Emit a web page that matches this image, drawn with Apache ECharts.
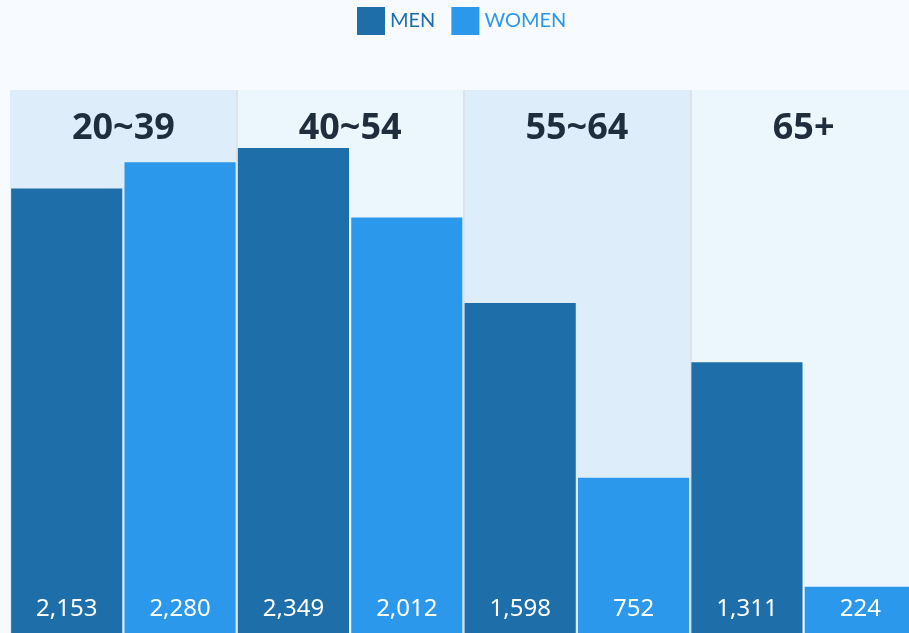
<!DOCTYPE html>
<html>
<head>
<meta charset="utf-8">
<script src="https://cdn.jsdelivr.net/npm/echarts@6/dist/echarts.min.js"></script>
<style>
  html, body { margin: 0; padding: 0; background: #f7fbff; overflow: hidden; }
  #chartshow { width: 917px; height: 633px; }
</style>
</head>
<body>
<div id="chartshow"></div>
<script>
// 数据
const age_groups = ['20~39', '40~54', '55~64', '65+'];
const men_values = [2153, 2349, 1598, 1311];
const women_values = [2280, 2012, 752, 224];

const men_color = '#1e6ea9';
const women_color = '#2c98ec';

const myChart = echarts.init(document.getElementById('chartshow'));

const valueLabel = {
  show: true,
  position: 'insideBottom',
  distance: 12,
  color: '#fff',
  fontSize: 24,
  fontFamily: 'Noto Sans',
  formatter: (p) => p.value.toLocaleString('en-US'),
};

const chart_option = {
  backgroundColor: '#f7fbff',
  animation: false,
  legend: {
    top: 2,
    left: 352,
    itemWidth: 28,
    itemHeight: 28,
    itemGap: 16,
    icon: 'rect',
    itemStyle: { borderWidth: 0 },
    textStyle: {
      fontSize: 20,
      fontFamily: 'Lato',
    },
    data: [
      { name: 'MEN', textStyle: { color: men_color } },
      { name: 'WOMEN', textStyle: { color: women_color } },
    ],
  },
  grid: {
    left: 10,
    right: 0,
    top: 90,
    bottom: 0,
  },
  xAxis: {
    type: 'category',
    position: 'top',
    data: age_groups,
    axisLine: { show: false },
    axisTick: { show: false },
    axisLabel: {
      inside: true,
      margin: 21,
      fontSize: 36,
      fontWeight: 'bold',
      fontFamily: 'Noto Sans',
      color: '#1f2d3d',
    },
    splitLine: {
      show: true,
      showMinLine: false,
      lineStyle: { color: '#dde3ea', width: 2 },
    },
    splitArea: {
      show: true,
      areaStyle: { color: ['#deedfa', '#ecf6fd'] },
    },
  },
  yAxis: {
    type: 'value',
    min: 0,
    max: 2630,
    show: false,
  },
  series: [
    {
      name: 'MEN',
      type: 'bar',
      barGap: '2%',
      barCategoryGap: '1%',
      itemStyle: { color: men_color },
      label: valueLabel,
      data: men_values,
    },
    {
      name: 'WOMEN',
      type: 'bar',
      itemStyle: { color: women_color },
      label: valueLabel,
      data: women_values,
    },
  ],
};

myChart.setOption(chart_option);
</script>
</body>
</html>
